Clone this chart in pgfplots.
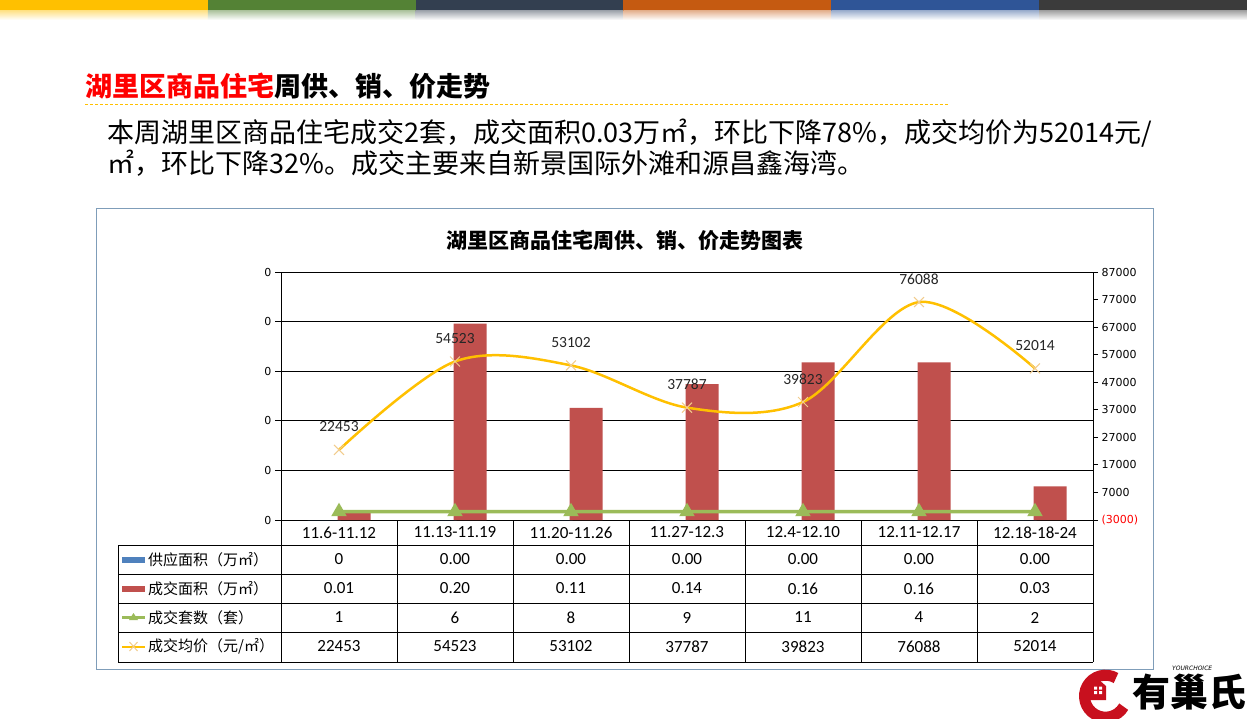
\documentclass[border=0pt]{standalone}
\usepackage{fontspec}
\setmainfont{Noto Sans CJK SC}
\newfontfamily\calfont{Carlito}
\newfontfamily\dvfont{DejaVu Sans}
\usepackage{pgfplots}
\pgfplotsset{compat=1.18}

\definecolor{barred}{HTML}{C0504D}
\definecolor{barblue}{HTML}{4F81BD}
\definecolor{lgreen}{HTML}{9BBB59}
\definecolor{lyellow}{HTML}{FFC000}
\definecolor{xmark}{HTML}{F2CC8C}
\definecolor{frameblue}{HTML}{7F9DB9}
\definecolor{logored}{HTML}{C8101E}

\begin{document}
\begin{tikzpicture}[x=1pt,y=1pt]
\path[use as bounding box] (0,0) rectangle (1247,718);
\fill[white] (0,0) rectangle (1247,718);

% top colour stripes
\foreach \c [count=\i from 0] in {FFC000,548235,333F50,C55A11,2F5597,3B3B3B}{
  \definecolor{tmp}{HTML}{\c}
  \fill[tmp] ({\i*207.83},707) rectangle ({(\i+1)*207.83},718);
  \shade[top color=tmp!45, bottom color=white] ({\i*207.83},698) rectangle ({(\i+1)*207.83},707);
}

% heading
\node[anchor=west, inner sep=0, font=\fontsize{27}{30}\selectfont\bfseries] at (85,632)
  {\textcolor{red}{湖里区商品住宅}周供、销、价走势};
\draw[lyellow, dash pattern=on 3pt off 2pt, line width=0.8pt] (85,614) -- (948,614);

\node[anchor=west, inner sep=0, font=\fontsize{27}{30}\selectfont] at (107,585)
  {本周湖里区商品住宅成交2套，成交面积0.03万㎡，环比下降78\%，成交均价为52014元/};
\node[anchor=west, inner sep=0, font=\fontsize{27}{30}\selectfont] at (107,555)
  {㎡，环比下降32\%。成交主要来自新景国际外滩和源昌鑫海湾。};

% chart frame and title
\draw[frameblue, line width=1pt] (96,49) rectangle (1153,509);
\node[font=\fontsize{21}{24}\selectfont\bfseries] at (625,478) {湖里区商品住宅周供、销、价走势图表};

% bars, left axis
\begin{axis}[
  at={(281pt,198pt)}, anchor=south west, scale only axis,
  width=812pt, height=248pt,
  xmin=-0.5, xmax=6.5, xtick=\empty,
  ymin=0, ymax=0.25, ytick={0,0.05,0.1,0.15,0.2,0.25},
  yticklabels={0,0,0,0,0,0},
  axis lines*=left, axis line style={black, line width=0.8pt, -},
  ymajorgrids, grid style={black, line width=0.8pt},
  tick align=outside, major tick length=6pt, tick style={black, line width=0.8pt},
  yticklabel style={font=\dvfont\fontsize{11}{12}\selectfont},
  ybar, bar width=33pt,
]
\addplot[draw=none, fill=barblue, bar shift=-15pt] coordinates
  {(0,0)(1,0)(2,0)(3,0)(4,0)(5,0)(6,0)};
\addplot[draw=none, fill=barred, bar shift=15pt] coordinates
  {(0,0.007)(1,0.198)(2,0.113)(3,0.137)(4,0.159)(5,0.159)(6,0.034)};
\end{axis}

% lines, right axis
\begin{axis}[
  at={(281pt,198pt)}, anchor=south west, scale only axis,
  width=812pt, height=248pt,
  xmin=-0.5, xmax=6.5, xtick=\empty, axis x line=none,
  ymin=-3000, ymax=87000, ytick={-3000,7000,...,87000}, scaled y ticks=false,
  yticklabels={\textcolor{red}{(3000)},7000,17000,27000,37000,47000,57000,67000,77000,87000},
  axis y line*=right, axis line style={black, line width=0.8pt, -},
  tick align=outside, major tick length=5pt, tick style={black, line width=0.8pt},
  yticklabel style={font=\dvfont\fontsize{11}{12}\selectfont, anchor=west},
  clip=false,
]
\addplot[lgreen, line width=3.5pt, mark=triangle*, mark size=5.5pt, mark options={solid, lgreen}]
  coordinates {(0,1)(1,6)(2,8)(3,9)(4,11)(5,4)(6,2)};
\addplot[lyellow, line width=2.5pt, smooth, tension=0.55,
  mark=x, mark size=7pt, mark options={solid, xmark, line width=1pt},
  nodes near coords, point meta=explicit symbolic,
  every node near coord/.append style={anchor=center, yshift=23pt,
    font=\calfont\fontsize{15.5}{17}\selectfont, text=black!85}]
  coordinates {(0,22453)[22453] (1,54523)[54523] (2,53102)[53102] (3,37787)[37787]
               (4,39823)[39823] (5,76088)[76088] (6,52014)[52014]};
\end{axis}

% data table
\begin{scope}[black, line width=0.8pt]
  \foreach \yy in {173,144,115,86,56} \draw (118,\yy) -- (1093,\yy);
  \foreach \xx in {281,397,...,1093} \draw (\xx,198) -- (\xx,56);
  \draw (118,173) -- (118,56);
\end{scope}
\foreach \lab [count=\i from 0] in {11.6-11.12,11.13-11.19,11.20-11.26,11.27-12.3,12.4-12.10,12.11-12.17,12.18-18-24}
  \node[font=\calfont\fontsize{17}{19}\selectfont] at ({339+116*\i},185.5) {\lab};
\foreach \v [count=\i from 0] in {0,0.00,0.00,0.00,0.00,0.00,0.00}
  \node[font=\calfont\fontsize{17}{19}\selectfont] at ({339+116*\i},158.5) {\v};
\foreach \v [count=\i from 0] in {0.01,0.20,0.11,0.14,0.16,0.16,0.03}
  \node[font=\calfont\fontsize{17}{19}\selectfont] at ({339+116*\i},129.5) {\v};
\foreach \v [count=\i from 0] in {1,6,8,9,11,4,2}
  \node[font=\calfont\fontsize{17}{19}\selectfont] at ({339+116*\i},100.5) {\v};
\foreach \v [count=\i from 0] in {22453,54523,53102,37787,39823,76088,52014}
  \node[font=\calfont\fontsize{17}{19}\selectfont] at ({339+116*\i},71.5) {\v};

% row legend keys
\fill[barblue] (122,155.5) rectangle (145,161.5);
\fill[barred] (122,126.5) rectangle (145,132.5);
\draw[lgreen, line width=2.5pt] (122,100.5) -- (145,100.5);
\fill[lgreen] (133.5,105) -- (129,98) -- (138,98) -- cycle;
\draw[lyellow, line width=2pt] (122,71.5) -- (145,71.5);
\draw[xmark, line width=1pt] (129.5,67) -- (137.5,76) (129.5,76) -- (137.5,67);
\node[anchor=west, inner sep=0, font=\fontsize{15}{18}\selectfont] at (148,158.5) {供应面积（万㎡）};
\node[anchor=west, inner sep=0, font=\fontsize{15}{18}\selectfont] at (148,129.5) {成交面积（万㎡）};
\node[anchor=west, inner sep=0, font=\fontsize{15}{18}\selectfont] at (148,100.5) {成交套数（套）};
\node[anchor=west, inner sep=0, font=\fontsize{15}{18}\selectfont] at (148,71.5) {成交均价（元/㎡）};

% logo
\draw[logored, line width=11pt] (1116,40) arc (60:330:21);
\fill[logored] (1090,18) -- (1090,32) -- (1098,39) -- (1106,32) -- (1106,18) -- cycle;
\fill[white] (1094,24) rectangle (1097,27) (1099,24) rectangle (1102,27)
             (1094,28.5) rectangle (1097,31.5) (1099,28.5) rectangle (1102,31.5);
\node[anchor=west, inner sep=0, font=\fontsize{38}{40}\selectfont\bfseries] at (1132,26) {有巢氏};
\node[anchor=west, inner sep=0, font=\dvfont\fontsize{6}{7}\selectfont\itshape] at (1172,50) {YOURCHOICE};
\end{tikzpicture}
\end{document}
